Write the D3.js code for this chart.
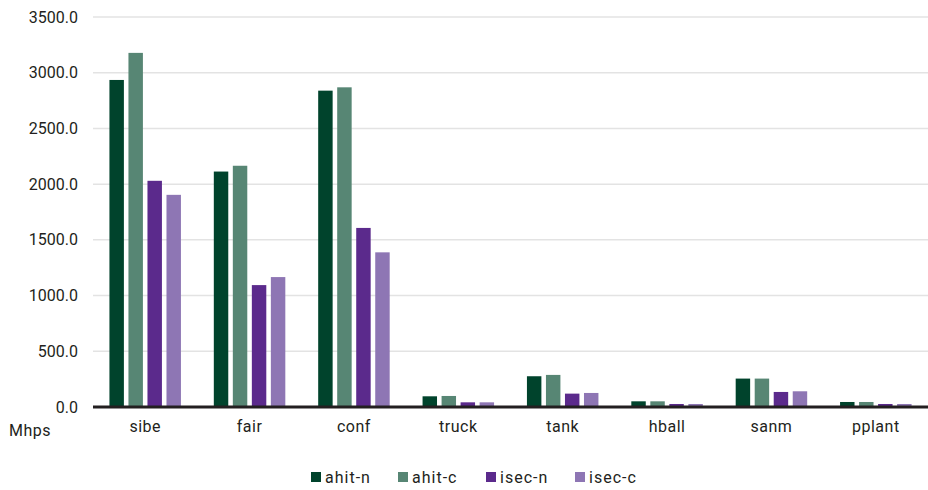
<!DOCTYPE html>
<html><head><meta charset="utf-8">
<script src="https://cdn.jsdelivr.net/npm/d3@7"></script>
<style>
body{margin:0;background:#fff;}
text{font-family:Roboto,"DejaVu Sans",sans-serif;fill:#231f20;}
</style></head>
<body><svg id="chart" width="928" height="490"></svg>
<script>
const categories = ["sibe","fair","conf","truck","tank","hball","sanm","pplant"];
const seriesNames = ["ahit-n","ahit-c","isec-n","isec-c"];
const ahitN = [2935, 2113, 2839, 96, 276, 51, 255, 45];
const ahitC = [3178, 2165, 2869, 99, 288, 51, 255, 45];
const isecN = [2030, 1094, 1607, 42, 120, 27, 135, 27];
const isecC = [1904, 1166, 1388, 42, 126, 27, 141, 27];
const yTicks = [0, 500, 1000, 1500, 2000, 2500, 3000, 3500];
const colors = ["#00432c", "#578674", "#5b2a8c", "#8e76b4"];
const unitLabel = "Mhps";

const seriesValues = [ahitN, ahitC, isecN, isecC];
const svg = d3.select("#chart");
const mLeft = 93, mRight = 928, mTop = 17, mBottom = 407;

const x0 = d3.scaleBand().domain(categories).range([mLeft, mRight]).paddingInner(0).paddingOuter(0);
const groupW = 71.5;
const x1 = d3.scaleBand().domain(seriesNames).range([0, groupW]).paddingInner(0.24).paddingOuter(0);
const y = d3.scaleLinear().domain([0, 3500]).range([mBottom, mTop]);
const color = d3.scaleOrdinal().domain(seriesNames).range(colors);

// gridlines
svg.append("g").selectAll("line").data(yTicks).join("line")
  .attr("x1", mLeft).attr("x2", mRight)
  .attr("y1", d => y(d)).attr("y2", d => y(d))
  .attr("stroke", "#e3e3e3").attr("stroke-width", 1.5);

// y axis labels
const yAxis = d3.axisLeft(y).tickValues(yTicks).tickFormat(d3.format(".1f")).tickSize(0).tickPadding(15);
const yg = svg.append("g").attr("transform", `translate(${mLeft},0)`).call(yAxis);
yg.select(".domain").remove();
yg.selectAll("text").attr("font-size", 16).style("font-family", "Roboto, sans-serif").attr("fill", "#231f20");

// bars
const groups = svg.append("g").selectAll("g").data(categories).join("g")
  .attr("transform", c => `translate(${x0(c) + (x0.bandwidth() - groupW) / 2},0)`);
groups.selectAll("rect").data((c, i) => seriesNames.map((s, j) => ({s, v: seriesValues[j][i]})))
  .join("rect")
  .attr("x", d => x1(d.s))
  .attr("width", x1.bandwidth())
  .attr("y", d => y(d.v))
  .attr("height", d => y(0) - y(d.v))
  .attr("fill", d => color(d.s));

// x axis
const xAxis = d3.axisBottom(x0).tickSize(0).tickPadding(14);
const xg = svg.append("g").attr("transform", `translate(0,${mBottom})`).call(xAxis);
xg.select(".domain").attr("stroke", "#231f20").attr("stroke-width", 3).attr("d", `M${mLeft},0H${mRight}`);
xg.selectAll("text").attr("font-size", 16).style("font-family", "Roboto, sans-serif")
  .style("letter-spacing", "0.5px").attr("fill", "#231f20");

svg.append("text").attr("x", 9).attr("y", 436).attr("font-size", 16).style("letter-spacing", "0.5px").text(unitLabel);

// legend
const legendX = [311, 398, 486, 575];
const lg = svg.append("g").selectAll("g").data(seriesNames).join("g")
  .attr("transform", (d, i) => `translate(${legendX[i]},472)`);
lg.append("rect").attr("width", 10).attr("height", 10).attr("fill", d => color(d));
lg.append("text").attr("x", 14).attr("y", 11).attr("font-size", 16).style("letter-spacing", "1px").text(d => d);
</script></body></html>
